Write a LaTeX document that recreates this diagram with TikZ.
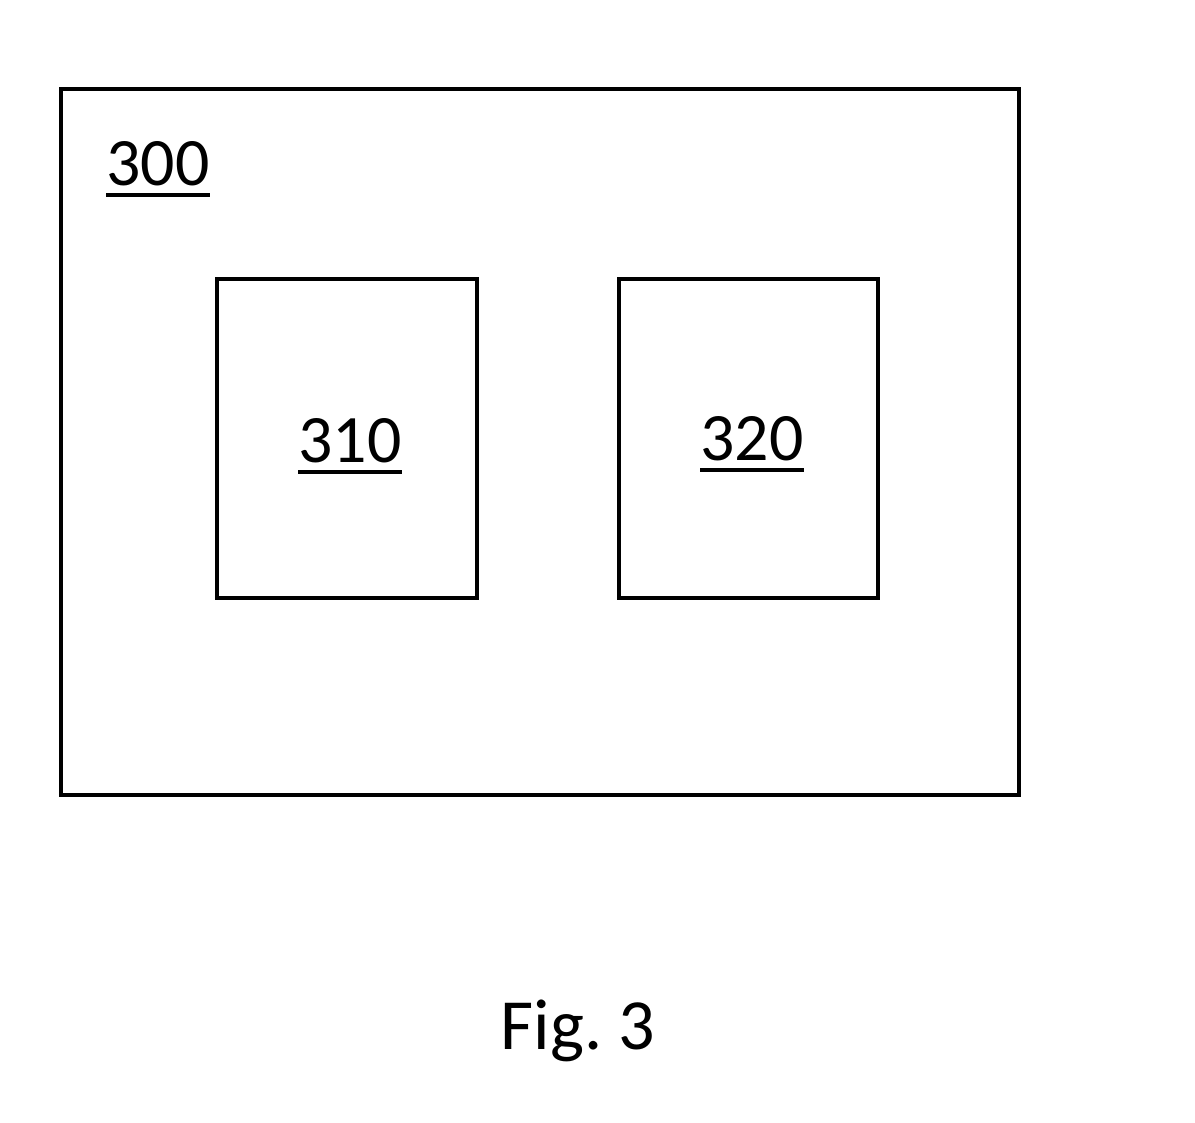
\documentclass[tikz,border=0pt]{standalone}
\usepackage{fontspec}
\setmainfont{Carlito}
% reference numeral with a heavy underline
\newcommand{\refnum}[1]{\setbox0\hbox{#1}\rlap{\rule[-3.4pt]{\wd0}{1.1pt}}\box0}
\begin{document}
\begin{tikzpicture}[x=1mm,y=1mm]
\useasboundingbox (0,0) rectangle (119.5,112.2);
\draw[line width=1pt] (6.1,103.3) rectangle (101.9,32.7);
\draw[line width=1pt] (21.7,84.3) rectangle (47.7,52.4);
\draw[line width=1pt] (61.9,84.3) rectangle (87.8,52.4);
\node[anchor=base,inner sep=0pt,font=\fontsize{19.3}{22}\selectfont] (lbl300) at (15.8,93.7) {\refnum{300}};
\node[anchor=base,inner sep=0pt,font=\fontsize{19.3}{22}\selectfont] (lbl310) at (35.0,66.0) {\refnum{310}};
\node[anchor=base,inner sep=0pt,font=\fontsize{19.3}{22}\selectfont] (lbl320) at (75.2,66.2) {\refnum{320}};
\node[anchor=base,inner sep=0pt,font=\fontsize{20.5}{24}\selectfont] (caption) at (57.8,7.3) {Fig.\hspace{-0.5mm} 3};
\end{tikzpicture}
\end{document}
